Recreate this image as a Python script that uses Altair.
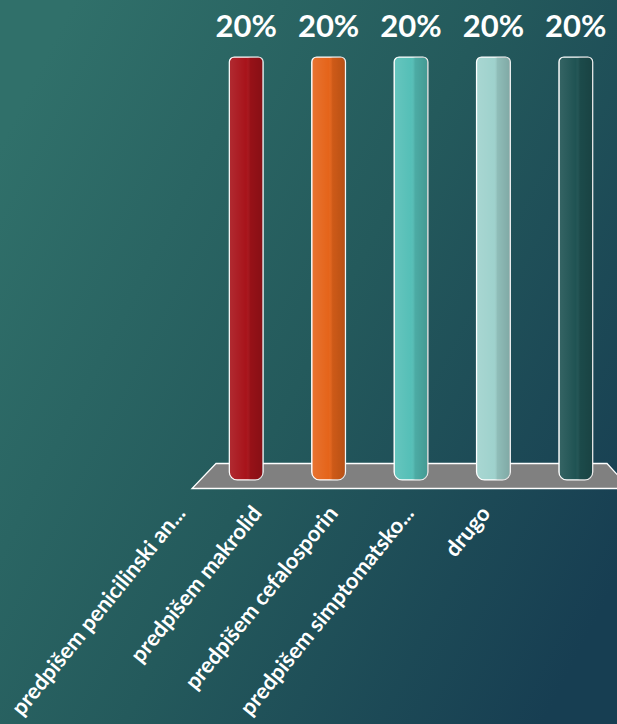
import altair as alt
import pandas as pd

categories = [
    "predpišem penicilinski an...",
    "predpišem makrolid",
    "predpišem cefalosporin",
    "predpišem simptomatsko...",
    "drugo",
]
shares = [0.20, 0.20, 0.20, 0.20, 0.20]
bar_colors = ["#a8131a", "#e5641a", "#55bfb7", "#9fd2cd", "#1f5353"]

# decorative floor (pixel geometry relative to plot origin)
floor_y = [406.5, 431.5]
floor_x1 = [11, -13]
floor_x2 = [402, 425]

df = pd.DataFrame({"cat": categories, "share": shares})
floor_df = pd.DataFrame({"fy": floor_y, "fx1": floor_x1, "fx2": floor_x2})

PAD_L, PAD_T, W, H = 205, 57, 412, 423

bg = alt.Chart(alt.Data(values=[{}])).mark_rect(
    fill=alt.Gradient(
        gradient="linear", x1=0, y1=0.2, x2=1, y2=0.8,
        stops=[alt.GradientStop(color="#30706a", offset=0),
               alt.GradientStop(color="#245a5c", offset=0.5),
               alt.GradientStop(color="#173e52", offset=1)],
    )
).encode(
    x=alt.value(-PAD_L), x2=alt.value(617 - PAD_L),
    y=alt.value(-PAD_T), y2=alt.value(724 - PAD_T),
)

floor = alt.Chart(floor_df).mark_area(
    orient="horizontal", color="#808080", stroke="white", strokeWidth=1.3
).encode(
    y=alt.Y("fy:Q", scale=None, axis=None),
    x=alt.X("fx1:Q", scale=None, axis=None),
    x2="fx2:Q",
)

band = dict(paddingInner=0.59, paddingOuter=0.295)

xenc = alt.X("cat:N", sort=categories, title=None,
             scale=alt.Scale(**band), axis=None)
yenc = alt.Y("share:Q", scale=alt.Scale(domain=[0, 0.2]), axis=None)

bars = alt.Chart(df).mark_bar(
    stroke="white", strokeWidth=1.2,
    cornerRadiusTopLeft=5, cornerRadiusTopRight=5,
    cornerRadiusBottomLeft=8, cornerRadiusBottomRight=8,
).encode(
    x=xenc, y=yenc,
    color=alt.Color("cat:N", sort=categories,
                    scale=alt.Scale(domain=categories, range=bar_colors),
                    legend=None),
)

shade = alt.Chart(df).mark_bar(
    cornerRadiusTopLeft=5, cornerRadiusTopRight=5,
    cornerRadiusBottomLeft=8, cornerRadiusBottomRight=8,
    fill=alt.Gradient(
        gradient="linear", x1=0, y1=0, x2=1, y2=0,
        stops=[alt.GradientStop(color="rgba(255,255,255,0.10)", offset=0),
               alt.GradientStop(color="rgba(255,255,255,0.0)", offset=0.5),
               alt.GradientStop(color="rgba(0,0,0,0.10)", offset=0.62),
               alt.GradientStop(color="rgba(0,0,0,0.20)", offset=1)],
    ),
).encode(x=xenc, y=yenc)

labels = alt.Chart(df).mark_text(
    color="white", font="Lato", fontWeight="bold", fontSize=31,
    baseline="alphabetic", dy=-20,
).encode(x=xenc, y=yenc, text=alt.Text("share:Q", format=".0%"))

inner = alt.layer(bars, shade, labels)

# category axis drawn in perspective (front edge of the floor is narrower)
axis_layer = alt.Chart(df).mark_tick(opacity=0).encode(
    x=alt.X(
        "cat:N", sort=categories, title=None,
        scale=alt.Scale(range=[-62, 319], **band),
        axis=alt.Axis(
            labelAngle=309, labelColor="white", labelFont="Lato",
            labelFontWeight="bold", labelFontSize=22, labelLimit=500,
            labelPadding=29, ticks=False, tickSize=0,
            domain=False, grid=False, zindex=1,
        ),
    )
)

chart = alt.layer(bg, floor, inner, axis_layer).resolve_scale(
    x="independent", y="independent"
).properties(
    width=W, height=H,
    padding={"left": PAD_L, "top": PAD_T, "right": 0, "bottom": 724 - PAD_T - H},
    autosize="none",
).configure_view(strokeWidth=0)

chart.save("out.html", embed_options={"renderer": "svg", "actions": False})
